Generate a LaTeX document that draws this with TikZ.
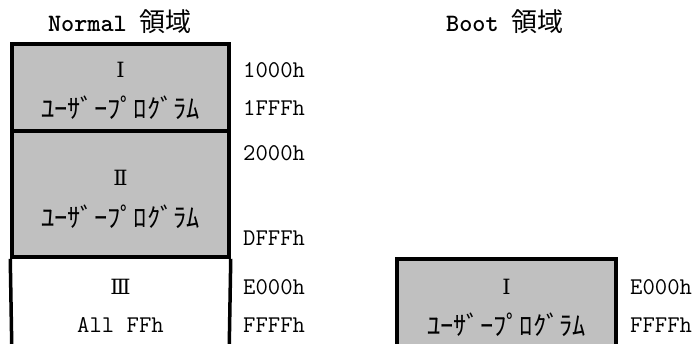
\documentclass[tikz,border=0pt]{standalone}
\usepackage{fontspec}
\newfontfamily\jpfont{Noto Sans CJK JP}
\newfontfamily\romfont{DejaVu Serif}
\usetikzlibrary{positioning}
\definecolor{memgray}{HTML}{C0C0C0}
\newcommand{\kanaprog}{\jpfont ﾕｰｻﾞｰﾌﾟﾛｸﾞﾗﾑ}

\begin{document}
\begin{tikzpicture}[x=1pt, y=-1pt, every node/.style={font=\ttfamily\fontsize{24}{26}\selectfont, align=center, inner sep=0pt},
  blk/.style={draw, line width=3.5pt, fill=memgray, minimum width=217pt},
  edge/.style={line width=3.5pt},
  kana/.style={font=\fontsize{26.5}{28}\selectfont},
  roman/.style={font=\romfont\fontsize{21}{24}\selectfont},
  title/.style={font=\ttfamily\bfseries\fontsize{25}{28}\selectfont},
  addr/.style={anchor=west}]
  \useasboundingbox (0,0) rectangle (698,343);
  % Normal area
  \node[title] (tnorm) at (120,22) {Normal {\jpfont\mdseries\fontsize{26}{28}\selectfont 領域}};
  \node[blk, minimum height=87pt] (b1) at (120.5,87.5) {};
  \node[blk, minimum height=126pt] (b2) at (120.5,194) {};
  \coordinate (b3l) at (12,360);
  \coordinate (b3r) at (229,360);
  \draw[edge] (b2.south west) -- (b3l);
  \draw[edge] (b2.south east) -- (b3r);
  \node[roman] (r1) at (120.5,70) {Ⅰ};
  \node[kana] (k1) at (120.5,108) {\kanaprog};
  \node[roman] (r2) at (120.5,178) {Ⅱ};
  \node[kana] (k2) at (120.5,217) {\kanaprog};
  \node[roman] (r3) at (120.5,287) {Ⅲ};
  \node (ff) at (120.5,325) {All FFh};
  \node[addr] (a1) at (243,70) {1000h};
  \node[addr] (a2) at (243,108) {1FFFh};
  \node[addr] (a3) at (243,153) {2000h};
  \node[addr] (a4) at (243,238) {DFFFh};
  \node[addr] (a5) at (243,287) {E000h};
  \node[addr] (a6) at (243,325) {FFFFh};
  % Boot area
  \node[title] (tboot) at (505,22) {Boot {\jpfont\mdseries\fontsize{26}{28}\selectfont 領域}};
  \coordinate (bbl) at (397,360);
  \coordinate (bbr) at (616,360);
  \fill[memgray] (397,259) rectangle (bbr);
  \draw[edge] (bbl) |- (616,259) -- (bbr);
  \node[roman] (br1) at (506.5,287) {Ⅰ};
  \node[kana] (bk1) at (506.5,325) {\kanaprog};
  \node[addr] (ba1) at (630,287) {E000h};
  \node[addr] (ba2) at (630,325) {FFFFh};
\end{tikzpicture}
\end{document}
